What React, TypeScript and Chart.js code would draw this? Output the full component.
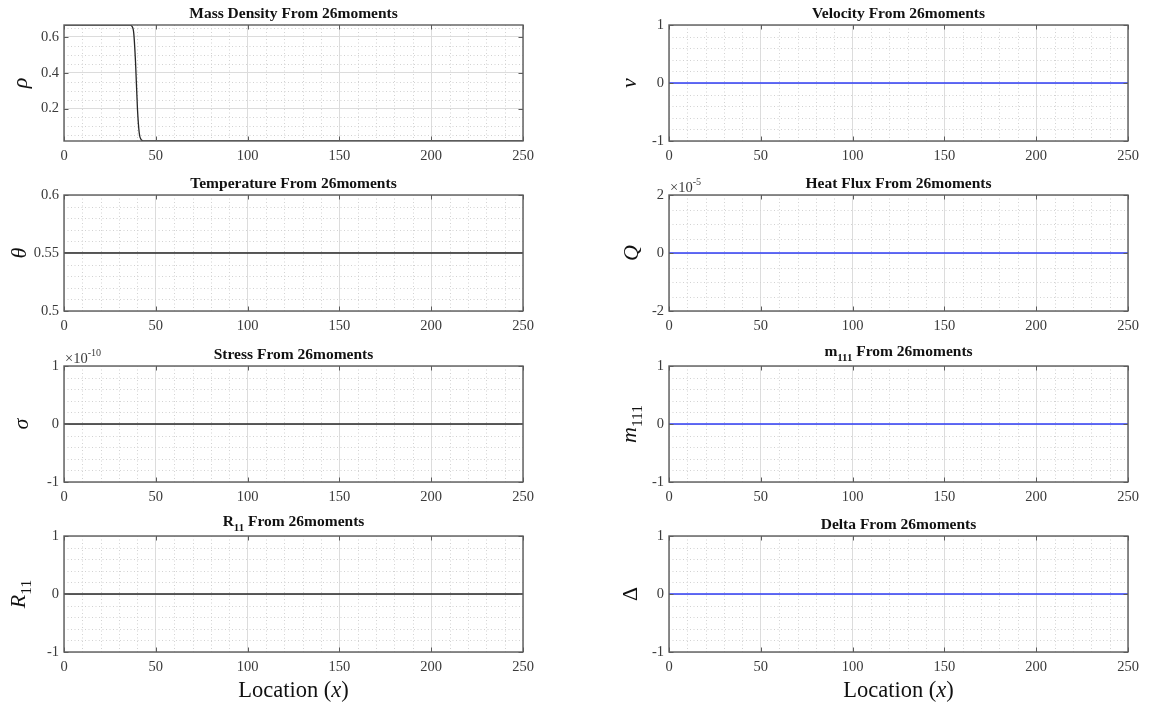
import { useEffect, useRef } from "react";
import { Chart, registerables } from "chart.js";

Chart.register(...registerables);

// Location axis ticks (shared by every panel)
const locationTicks = [0, 50, 100, 150, 200, 250];

// Mass density profile across the shock
const densityX = [0, 30, 36, 37, 38, 39, 40, 41, 42, 43, 44, 46, 250];
const densityY = [0.667, 0.667, 0.666, 0.66, 0.62, 0.45, 0.2, 0.062, 0.027, 0.0196, 0.0186, 0.0185, 0.0185];

// Flat profiles sampled on the location grid
const flatX = [0, 50, 100, 150, 200, 250];
const velocityY = [0, 0, 0, 0, 0, 0];
const temperatureY = [0.55, 0.55, 0.55, 0.55, 0.55, 0.55];
const heatFluxY = [0, 0, 0, 0, 0, 0];
const stressY = [0, 0, 0, 0, 0, 0];
const m111Y = [0, 0, 0, 0, 0, 0];
const r11Y = [0, 0, 0, 0, 0, 0];
const deltaY = [0, 0, 0, 0, 0, 0];

// Y tick values
const densityTicks = [0.2, 0.4, 0.6];
const temperatureTicks = [0.5, 0.55, 0.6];
const unitTicks = [-1, 0, 1];
const heatFluxTicks = [-2e-5, 0, 2e-5];
const stressTicks = [-1e-10, 0, 1e-10];

type Seg = { text: string; sub?: boolean; sup?: boolean; italic?: boolean };

interface PanelSpec {
  id: string;
  col: number;
  row: number;
  title: Seg[];
  yLabel: Seg[];
  yLabelX: number;
  xs: number[];
  ys: number[];
  yMin: number;
  yMax: number;
  yTicks: number[];
  yMinor: number;
  yUnit: number;
  exponent?: string;
  color: string;
  xLabel?: boolean;
}

const SERIF = '"Liberation Serif", "Times New Roman", serif';
const TEXT = "#111111";
const TICK_TEXT = "#3a3a3a";
const AXIS = "#5c5c5c";
const MAJOR_GRID = "#dcdcdc";
const MINOR_GRID = "#d2d2d2";
const BLACK_LINE = "#262626";
const BLUE_LINE = "#2f3df5";

const COL_W = 576;
const PLOT_LEFT = [64, 93];
const PLOT_W = 459;
const PLOT_H = 116;
const PLOT_TOPS = [25, 195, 366, 536];
const TOP_PAD = 25;
const PAGE_H = 706;
const X_LABEL_DROP = 45;

const panels: PanelSpec[] = [
  {
    id: "density", col: 0, row: 0,
    title: [{ text: "Mass Density From 26moments" }],
    yLabel: [{ text: "ρ", italic: true }], yLabelX: 24,
    xs: densityX, ys: densityY,
    yMin: Math.min(...densityY), yMax: Math.max(...densityY),
    yTicks: densityTicks, yMinor: 0.05, yUnit: 1, color: BLACK_LINE,
  },
  {
    id: "velocity", col: 1, row: 0,
    title: [{ text: "Velocity From 26moments" }],
    yLabel: [{ text: "v", italic: true }], yLabelX: 55,
    xs: flatX, ys: velocityY, yMin: -1, yMax: 1,
    yTicks: unitTicks, yMinor: 0.2, yUnit: 1, color: BLUE_LINE,
  },
  {
    id: "temperature", col: 0, row: 1,
    title: [{ text: "Temperature From 26moments" }],
    yLabel: [{ text: "θ", italic: true }], yLabelX: 18,
    xs: flatX, ys: temperatureY, yMin: 0.5, yMax: 0.6,
    yTicks: temperatureTicks, yMinor: 0.01, yUnit: 1, color: BLACK_LINE,
  },
  {
    id: "heatflux", col: 1, row: 1,
    title: [{ text: "Heat Flux From 26moments" }],
    yLabel: [{ text: "Q", italic: true }], yLabelX: 56,
    xs: flatX, ys: heatFluxY, yMin: -2e-5, yMax: 2e-5,
    yTicks: heatFluxTicks, yMinor: 0.5e-5, yUnit: 1e-5, exponent: "-5", color: BLUE_LINE,
  },
  {
    id: "stress", col: 0, row: 2,
    title: [{ text: "Stress From 26moments" }],
    yLabel: [{ text: "σ", italic: true }], yLabelX: 22,
    xs: flatX, ys: stressY, yMin: -1e-10, yMax: 1e-10,
    yTicks: stressTicks, yMinor: 0.2e-10, yUnit: 1e-10, exponent: "-10", color: BLACK_LINE,
  },
  {
    id: "m111", col: 1, row: 2,
    title: [{ text: "m" }, { text: "111", sub: true }, { text: " From 26moments" }],
    yLabel: [{ text: "m", italic: true }, { text: "111", sub: true }], yLabelX: 58,
    xs: flatX, ys: m111Y, yMin: -1, yMax: 1,
    yTicks: unitTicks, yMinor: 0.2, yUnit: 1, color: BLUE_LINE,
  },
  {
    id: "r11", col: 0, row: 3,
    title: [{ text: "R" }, { text: "11", sub: true }, { text: " From 26moments" }],
    yLabel: [{ text: "R", italic: true }, { text: "11", sub: true }], yLabelX: 21,
    xs: flatX, ys: r11Y, yMin: -1, yMax: 1,
    yTicks: unitTicks, yMinor: 0.2, yUnit: 1, color: BLACK_LINE, xLabel: true,
  },
  {
    id: "delta", col: 1, row: 3,
    title: [{ text: "Delta From 26moments" }],
    yLabel: [{ text: "Δ" }], yLabelX: 54,
    xs: flatX, ys: deltaY, yMin: -1, yMax: 1,
    yTicks: unitTicks, yMinor: 0.2, yUnit: 1, color: BLUE_LINE, xLabel: true,
  },
];

const xAxisLabel: Seg[] = [{ text: "Location (" }, { text: "x", italic: true }, { text: ")" }];

function segFont(seg: Seg, size: number, bold: boolean) {
  const s = seg.sub || seg.sup ? size * 0.7 : size;
  return `${seg.italic ? "italic " : ""}${bold ? "bold " : ""}${s}px ${SERIF}`;
}

function segOffset(seg: Seg, size: number) {
  if (seg.sub) return size * 0.3;
  if (seg.sup) return -size * 0.45;
  return 0;
}

function richWidth(ctx: CanvasRenderingContext2D, segs: Seg[], size: number, bold: boolean) {
  let w = 0;
  for (const seg of segs) {
    ctx.font = segFont(seg, size, bold);
    w += ctx.measureText(seg.text).width;
  }
  return w;
}

function richBounds(ctx: CanvasRenderingContext2D, segs: Seg[], size: number, bold: boolean) {
  let top = Infinity;
  let bottom = -Infinity;
  for (const seg of segs) {
    ctx.font = segFont(seg, size, bold);
    const m = ctx.measureText(seg.text);
    const off = segOffset(seg, size);
    top = Math.min(top, off - m.actualBoundingBoxAscent);
    bottom = Math.max(bottom, off + m.actualBoundingBoxDescent);
  }
  return { top, bottom };
}

function drawRich(ctx: CanvasRenderingContext2D, segs: Seg[], x: number, y: number, size: number, bold: boolean) {
  let cx = x;
  ctx.textBaseline = "alphabetic";
  ctx.textAlign = "left";
  for (const seg of segs) {
    ctx.font = segFont(seg, size, bold);
    ctx.fillText(seg.text, cx, y + segOffset(seg, size));
    cx += ctx.measureText(seg.text).width;
  }
}

function near(a: number, b: number, tol: number) {
  return Math.abs(a - b) < tol;
}

function makeFramePlugin(spec: PanelSpec) {
  return {
    id: `frame-${spec.id}`,
    beforeDatasetsDraw(chart: Chart) {
      const { ctx, chartArea } = chart;
      const xs = chart.scales.x;
      const ys = chart.scales.y;
      ctx.save();
      ctx.strokeStyle = MINOR_GRID;
      ctx.lineWidth = 1;
      ctx.setLineDash([1, 2.5]);
      ctx.beginPath();
      for (let v = 10; v < 250; v += 10) {
        if (locationTicks.some((t) => near(t, v, 1e-6))) continue;
        const px = Math.round(xs.getPixelForValue(v)) + 0.5;
        ctx.moveTo(px, chartArea.top);
        ctx.lineTo(px, chartArea.bottom);
      }
      const step = spec.yMinor;
      const first = Math.ceil(spec.yMin / step - 1e-6) * step;
      for (let k = 0; first + k * step <= spec.yMax + step * 1e-6; k++) {
        const v = first + k * step;
        if (spec.yTicks.some((t) => near(t, v, step * 1e-3))) continue;
        if (near(v, spec.yMin, step * 1e-3) || near(v, spec.yMax, step * 1e-3)) continue;
        const py = Math.round(ys.getPixelForValue(v)) + 0.5;
        ctx.moveTo(chartArea.left, py);
        ctx.lineTo(chartArea.right, py);
      }
      ctx.stroke();
      ctx.restore();
    },
    afterDatasetsDraw(chart: Chart) {
      const { ctx, chartArea } = chart;
      const xs = chart.scales.x;
      const ys = chart.scales.y;
      const { left, right, top, bottom } = chartArea;
      ctx.save();
      // axes box
      ctx.strokeStyle = AXIS;
      ctx.lineWidth = 1.4;
      ctx.setLineDash([]);
      ctx.strokeRect(left, top, right - left, bottom - top);
      // inward tick marks
      const tl = 4.5;
      ctx.lineWidth = 1;
      ctx.beginPath();
      for (const t of locationTicks) {
        const px = Math.round(xs.getPixelForValue(t)) + 0.5;
        ctx.moveTo(px, bottom);
        ctx.lineTo(px, bottom - tl);
        ctx.moveTo(px, top);
        ctx.lineTo(px, top + tl);
      }
      for (const t of spec.yTicks) {
        const py = Math.round(ys.getPixelForValue(t)) + 0.5;
        ctx.moveTo(left, py);
        ctx.lineTo(left + tl, py);
        ctx.moveTo(right, py);
        ctx.lineTo(right - tl, py);
      }
      ctx.stroke();

      ctx.fillStyle = TEXT;
      // title
      const tSize = 15.5;
      const tw = richWidth(ctx, spec.title, tSize, true);
      const hasSub = spec.title.some((s) => s.sub);
      drawRich(ctx, spec.title, (left + right) / 2 - tw / 2, top - (hasSub ? 10 : 7), tSize, true);

      // exponent multiplier
      if (spec.exponent) {
        ctx.fillStyle = TICK_TEXT;
        drawRich(ctx, [{ text: "×10" }, { text: spec.exponent, sup: true }], left + 1, top - 3.5, 14.5, false);
      }

      // y axis label, rotated
      ctx.fillStyle = TEXT;
      const lSize = 22;
      const lw = richWidth(ctx, spec.yLabel, lSize, false);
      const b = richBounds(ctx, spec.yLabel, lSize, false);
      ctx.save();
      ctx.translate(spec.yLabelX, (top + bottom) / 2);
      ctx.rotate(-Math.PI / 2);
      drawRich(ctx, spec.yLabel, -lw / 2, -(b.top + b.bottom) / 2, lSize, false);
      ctx.restore();

      // x axis label
      if (spec.xLabel) {
        const xSize = 22.5;
        const xw = richWidth(ctx, xAxisLabel, xSize, false);
        drawRich(ctx, xAxisLabel, (left + right) / 2 - xw / 2, bottom + X_LABEL_DROP, xSize, false);
      }
      ctx.restore();
    },
  };
}

function formatTick(v: number, unit: number) {
  return String(parseFloat((v / unit).toFixed(4)));
}

function Panel({ spec }: { spec: PanelSpec }) {
  const ref = useRef<HTMLCanvasElement | null>(null);
  const plotTop = PLOT_TOPS[spec.row];
  const canvasTop = plotTop - TOP_PAD;
  const canvasH = spec.row === 3 ? PAGE_H - canvasTop : 170;
  const plotLeft = PLOT_LEFT[spec.col];

  useEffect(() => {
    if (!ref.current) return;
    const tickFont = { family: SERIF, size: 14.5 };
    const chart = new Chart(ref.current, {
      type: "line",
      data: {
        datasets: [
          {
            data: spec.xs.map((x, i) => ({ x, y: spec.ys[i] })),
            borderColor: spec.color,
            borderWidth: 1.3,
            pointRadius: 0,
            fill: false,
            cubicInterpolationMode: "monotone",
          },
        ],
      },
      options: {
        animation: false,
        responsive: false,
        maintainAspectRatio: false,
        events: [],
        layout: {
          padding: { top: TOP_PAD, left: 0, bottom: 0, right: COL_W - plotLeft - PLOT_W },
        },
        plugins: {
          legend: { display: false },
          title: { display: false },
          tooltip: { enabled: false },
        },
        scales: {
          x: {
            type: "linear",
            min: 0,
            max: 250,
            afterBuildTicks: (s: any) => {
              s.ticks = locationTicks.map((value) => ({ value }));
            },
            afterFit: (s: any) => {
              s.height = canvasH - TOP_PAD - PLOT_H;
              s.paddingLeft = 0;
              s.paddingRight = 0;
            },
            grid: { color: MAJOR_GRID, lineWidth: 1, drawTicks: false },
            border: { display: false },
            ticks: {
              padding: 6.5,
              color: TICK_TEXT,
              font: tickFont,
              autoSkip: false,
              maxRotation: 0,
              callback: (v: any) => String(v),
            },
          },
          y: {
            type: "linear",
            min: spec.yMin,
            max: spec.yMax,
            afterBuildTicks: (s: any) => {
              s.ticks = spec.yTicks.map((value) => ({ value }));
            },
            afterFit: (s: any) => {
              s.width = plotLeft;
              s.paddingTop = 0;
              s.paddingBottom = 0;
            },
            grid: { color: MAJOR_GRID, lineWidth: 1, drawTicks: false },
            border: { display: false },
            ticks: {
              padding: 5,
              color: TICK_TEXT,
              font: tickFont,
              autoSkip: false,
              callback: (v: any) => formatTick(Number(v), spec.yUnit),
            },
          },
        },
      },
      plugins: [makeFramePlugin(spec)],
    });
    return () => chart.destroy();
  }, [spec, canvasH, plotLeft]);

  return (
    <canvas
      ref={ref}
      width={COL_W}
      height={canvasH}
      style={{
        position: "absolute",
        left: spec.col * COL_W,
        top: canvasTop,
        width: COL_W,
        height: canvasH,
      }}
    />
  );
}

export default function App() {
  return (
    <div
      style={{
        position: "absolute",
        left: 0,
        top: 0,
        width: 1152,
        height: PAGE_H,
        background: "#ffffff",
        overflow: "hidden",
      }}
    >
      {panels.map((p) => (
        <Panel key={p.id} spec={p} />
      ))}
    </div>
  );
}
